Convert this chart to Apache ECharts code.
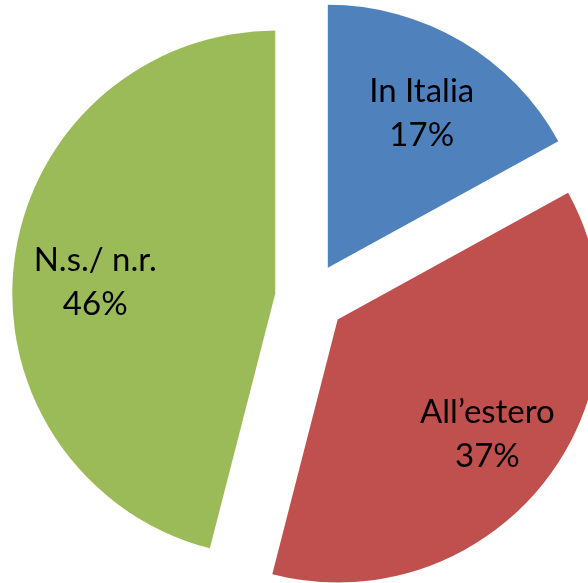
<!DOCTYPE html>
<html>
<head>
<meta charset="utf-8">
<script src="https://cdn.jsdelivr.net/npm/echarts@6/dist/echarts.min.js"></script>
<style>
  html, body { margin: 0; padding: 0; background: #fff; }
  #chart { width: 588px; height: 583px; }
</style>
</head>
<body>
<div id="chart"></div>
<script>
// categorie e valori (percentuali)
const categories = ['In Italia', 'All’estero', 'N.s./ n.r.'];
const values = [17, 37, 46];
const colors = ['#4F81BD', '#C0504D', '#9BBB59'];

const chart = echarts.init(document.getElementById('chart'));

const sliceData = categories.map((name, i) => ({
  name: name,
  value: values[i],
  selected: true,
  itemStyle: { color: colors[i] }
}));

// piccoli aggiustamenti di posizione delle etichette
const labelShift = [[0, 4], [4, 2], [3, 12]];

const labelData = categories.map((name, i) => ({
  name: name,
  value: values[i],
  selected: true
}));

const option = {
  animation: false,
  series: [
    {
      // fette esplose
      type: 'pie',
      center: [310, 298],
      radius: [0, 263],
      startAngle: 90,
      clockwise: true,
      selectedMode: 'multiple',
      selectedOffset: 35,
      silent: true,
      label: { show: false },
      labelLine: { show: false },
      data: sliceData
    },
    {
      // solo etichette, anello trasparente per spostarle verso l'esterno
      type: 'pie',
      center: [310, 298],
      radius: [100, 263],
      startAngle: 90,
      clockwise: true,
      selectedMode: 'multiple',
      selectedOffset: 35,
      silent: true,
      itemStyle: { color: 'rgba(0,0,0,0)' },
      label: {
        show: true,
        position: 'inside',
        formatter: p => p.name + '\n' + p.value + '%',
        fontFamily: 'Lato',
        fontSize: 33,
        lineHeight: 44,
        color: '#000'
      },
      labelLayout: p => ({ dx: labelShift[p.dataIndex][0], dy: labelShift[p.dataIndex][1] }),
      labelLine: { show: false },
      data: labelData
    }
  ]
};

chart.setOption(option);
</script>
</body>
</html>
